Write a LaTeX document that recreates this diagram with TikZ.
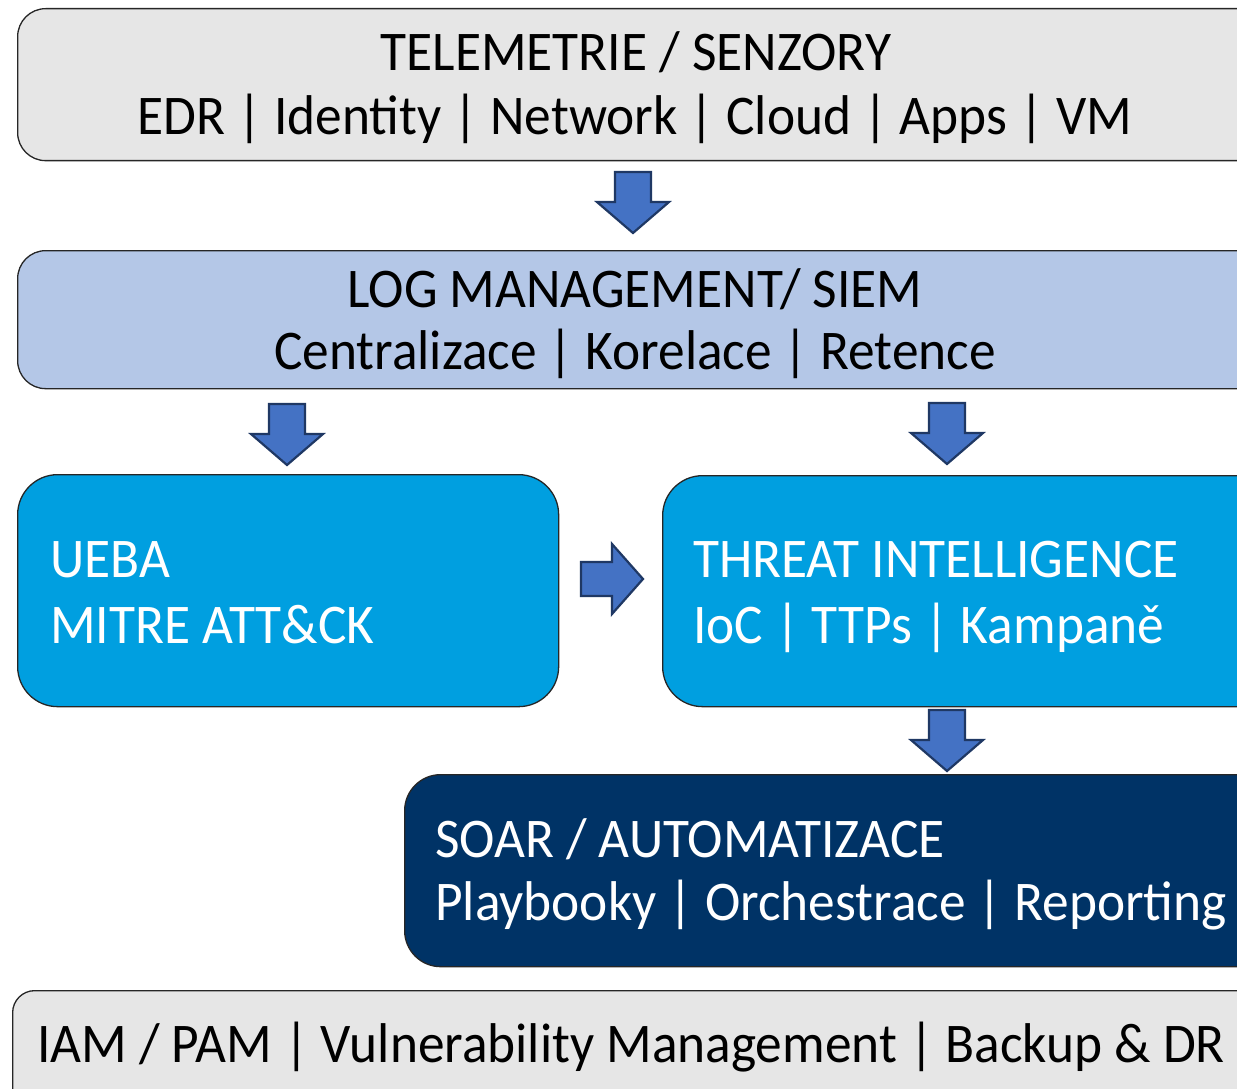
\documentclass[tikz,border=0pt]{standalone}
\usepackage{fontspec}
\setmainfont[FakeStretch=0.953]{Carlito}
\definecolor{graybox}{HTML}{E6E6E6}
\definecolor{logbox}{HTML}{B4C7E7}
\definecolor{bluebox}{HTML}{009FE0}
\definecolor{navybox}{HTML}{003366}
\definecolor{arrfill}{HTML}{4472C4}
\definecolor{arrline}{HTML}{1F3864}
\begin{document}
\begin{tikzpicture}[x=1pt,y=-1pt,
  box/.style={draw=black!85, line width=1.3pt, inner sep=0pt, anchor=north west},
  lbl/.style={inner sep=0pt, anchor=base, font=\fontsize{56}{60}\selectfont},
  lbll/.style={inner sep=0pt, anchor=base west, font=\fontsize{56}{60}\selectfont},
  blockarrow/.style={fill=arrfill, draw=arrline, line width=2.2pt, line join=miter},
  darrow/.pic={\path[blockarrow] (-18,0) -- (18,0) -- (18,30) -- (36,30) -- (0,61) -- (-36,30) -- (-18,30) -- cycle;},
  rarrow/.pic={\path[blockarrow] (0,-17) -- (31,-17) -- (31,-35) -- (62,0) -- (31,35) -- (31,17) -- (0,17) -- cycle;}
]
\useasboundingbox (0,0) rectangle (1237,1089);
\clip (0,0) rectangle (1237,1089);
\fill[white] (0,0) rectangle (1237,1089);

% boxes
\node[box, fill=graybox, rounded corners=28pt, minimum width=1260pt, minimum height=152pt] (tele) at (17,8) {};
\node[box, fill=logbox, rounded corners=28pt, minimum width=1260pt, minimum height=138pt] (siem) at (17,250) {};
\node[box, fill=bluebox, rounded corners=40pt, minimum width=541pt, minimum height=232pt] (ueba) at (17,474) {};
\node[box, fill=bluebox, rounded corners=40pt, minimum width=620pt, minimum height=231pt] (ti) at (662,475) {};
\node[box, fill=navybox, rounded corners=36pt, minimum width=880pt, minimum height=192pt] (soar) at (404,774) {};
\node[box, fill=graybox, rounded corners=22pt, minimum width=1280pt, minimum height=160pt] (base) at (12,990) {};

% texts
\node[lbl] (t1) at (636,71) {TELEMETRIE / SENZORY};
\node[lbl] (t2) at (635,135) {EDR | Identity | Network | Cloud | Apps | VM};
\node[lbl] (s1) at (635,307) {LOG MANAGEMENT/ SIEM};
\node[lbl] (s2) at (635,369) {Centralizace | Korelace | Retence};
\node[lbll, text=white] (u1) at (50,577) {UEBA};
\node[lbll, text=white] (u2) at (50,643) {MITRE ATT\&CK};
\node[lbll, text=white] (i1) at (693,577) {THREAT INTELLIGENCE};
\node[lbll, text=white] (i2) at (693,643) {IoC | TTPs | Kampaně};
\node[lbll, text=white] (o1) at (435,857) {SOAR / AUTOMATIZACE};
\node[lbll, text=white] (o2) at (435,920) {Playbooky | Orchestrace | Reporting};
\node[lbll] (b1) at (37,1062) {IAM / PAM | Vulnerability Management | Backup \& DR};

% block arrows
\pic (a1) at (633,172) {darrow};
\pic (a2) at (287,404) {darrow};
\pic (a3) at (947,403) {darrow};
\pic (a4) at (581,579) {rarrow};
\pic (a5) at (947,710) {darrow};
\end{tikzpicture}
\end{document}
